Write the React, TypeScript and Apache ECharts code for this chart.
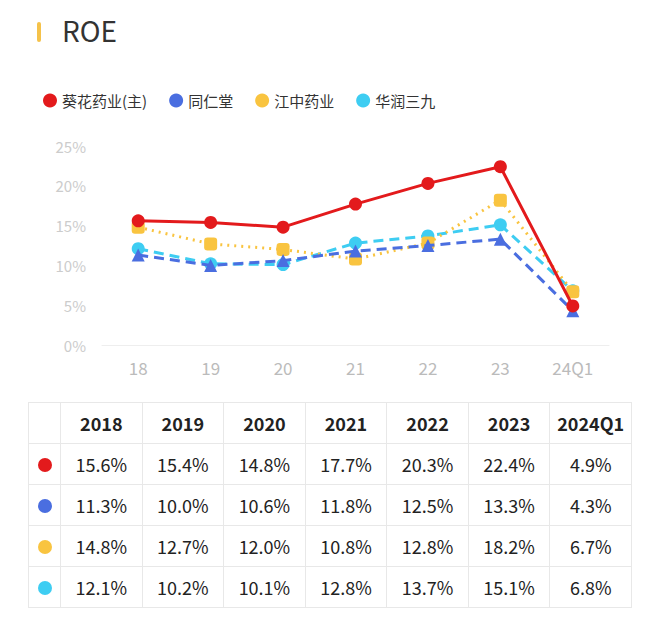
import React, { useEffect, useRef } from 'react';
import * as echarts from 'echarts';

const categories = ['18', '19', '20', '21', '22', '23', '24Q1'];
const tableYears = ['2018', '2019', '2020', '2021', '2022', '2023', '2024Q1'];
const names = ['葵花药业(主)', '同仁堂', '江中药业', '华润三九'];
const colors = ['#e31a1c', '#4a6ee0', '#f9c440', '#3ecdf2'];
const kuihua = [15.6, 15.4, 14.8, 17.7, 20.3, 22.4, 4.9];
const tongren = [11.3, 10.0, 10.6, 11.8, 12.5, 13.3, 4.3];
const jiangzhong = [14.8, 12.7, 12.0, 10.8, 12.8, 18.2, 6.7];
const huarun = [12.1, 10.2, 10.1, 12.8, 13.7, 15.1, 6.8];
const allValues = [kuihua, tongren, jiangzhong, huarun];

const font = '"Noto Sans CJK SC", "Noto Sans", sans-serif';

export default function App() {
  const chartRef = useRef<HTMLDivElement>(null);

  useEffect(() => {
    const chart = echarts.init(chartRef.current, null, { renderer: 'svg' });
    const styles = [
      { type: 'solid', symbol: 'circle' },
      { type: [10, 6], symbol: 'triangle' },
      { type: [2, 5], symbol: 'roundRect' },
      { type: [10, 6], symbol: 'circle' },
    ];
    chart.setOption({
      animation: false,
      textStyle: { fontFamily: font },
      graphic: [
        { type: 'rect', shape: { x: 37, y: 22, width: 4, height: 20, r: 2 }, style: { fill: '#f5c24a' } },
        { type: 'text', x: 62, y: 16, style: { text: 'ROE', font: `28px ${font}`, fill: '#333' } },
      ],
      legend: {
        left: 38,
        top: 88,
        itemWidth: 14,
        itemHeight: 14,
        itemGap: 22,
        icon: 'circle',
        textStyle: { fontSize: 15, color: '#333' },
        data: names,
      },
      grid: { left: 102, right: 51, top: 146, bottom: 55 },
      xAxis: {
        type: 'category',
        data: categories,
        axisLine: { lineStyle: { color: '#eeeeee' } },
        axisTick: { show: false },
        axisLabel: { color: '#bbbbbb', fontSize: 17, margin: 14 },
      },
      yAxis: {
        type: 'value',
        min: 0,
        max: 25,
        interval: 5,
        splitLine: { show: false },
        axisLabel: { color: '#cccccc', fontSize: 15, formatter: '{value}%', margin: 16 },
      },
      series: names.map((n, i) => ({
        name: n,
        type: 'line',
        data: allValues[i],
        symbol: styles[i].symbol,
        symbolSize: 13,
        z: 10 - i,
        itemStyle: { color: colors[i] },
        lineStyle: { width: 3, type: styles[i].type },
      })),
    });
    return () => chart.dispose();
  }, []);

  const cell: React.CSSProperties = {
    border: '1px solid #e8e8e8',
    height: 40,
    textAlign: 'center',
    fontSize: 18,
    color: '#222',
    padding: 0,
  };

  return (
    <div style={{ position: 'absolute', left: 0, top: 0, width: 660, height: 621, background: '#fff', fontFamily: font }}>
      <div ref={chartRef} style={{ width: 660, height: 400 }} />
      <table style={{ position: 'absolute', left: 28, top: 402, width: 604, borderCollapse: 'collapse', tableLayout: 'fixed' }}>
        <colgroup>
          <col style={{ width: 32 }} />
          {tableYears.map((y) => <col key={y} />)}
        </colgroup>
        <tbody>
          <tr>
            <td style={cell}></td>
            {tableYears.map((y) => <td key={y} style={{ ...cell, fontWeight: 600 }}>{y}</td>)}
          </tr>
          {allValues.map((vals, i) => (
            <tr key={names[i]}>
              <td style={cell}>
                <span style={{ display: 'inline-block', width: 14, height: 14, borderRadius: 7, background: colors[i] }} />
              </td>
              {vals.map((v, j) => <td key={j} style={cell}>{v.toFixed(1)}%</td>)}
            </tr>
          ))}
        </tbody>
      </table>
    </div>
  );
}
